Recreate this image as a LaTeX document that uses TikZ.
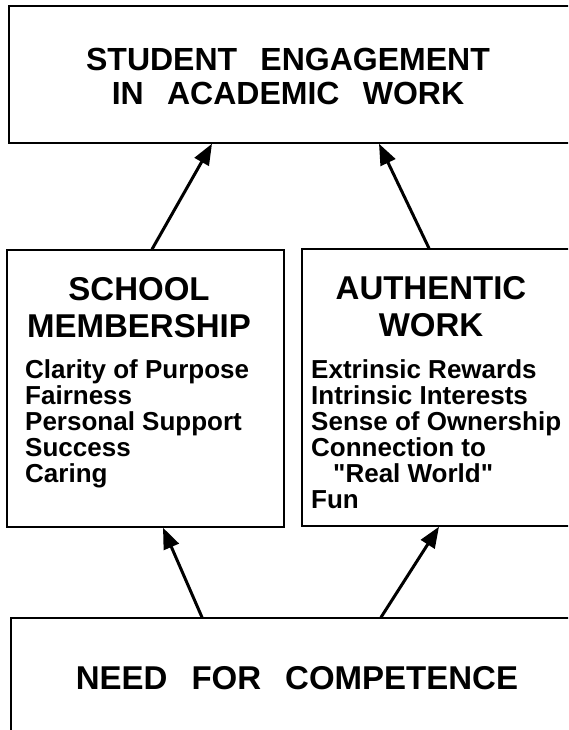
\documentclass[tikz,border=0pt]{standalone}
\usepackage{fontspec}
\newfontfamily\diagramfont{Liberation Sans}
\usetikzlibrary{arrows.meta}
\newcommand{\wordgap}{\hspace{0.45em}}

\begin{document}
\begin{tikzpicture}[x=1pt, y=-1pt,
    panel/.style={draw, line width=1.4pt, inner sep=0pt},
    title/.style={font=\diagramfont\fontsize{33}{37}\selectfont\bfseries, align=center, inner sep=0pt},
    banner/.style={font=\diagramfont\fontsize{32}{34}\selectfont\bfseries, align=center, inner sep=0pt},
    entry/.style={font=\diagramfont\fontsize{26}{26}\selectfont\bfseries, anchor=base west, inner sep=0pt},
    feed/.style={line width=3pt, -{Triangle[length=21pt, width=16pt]}}]
    \useasboundingbox (0,0) rectangle (568,730);
    \clip (0,0) rectangle (568,730);
    % boxes, the wide ones run off the right edge
    \node[panel, minimum width=571pt, minimum height=137pt] (engage) at (294.5,74.5) {};
    \node[panel, minimum width=277pt, minimum height=277pt] (school) at (145.5,388.5) {};
    \node[panel, minimum width=278pt, minimum height=277pt] (authentic) at (441,387.5) {};
    \node[panel, minimum width=569pt, minimum height=142pt] (need) at (295.5,689) {};
    % headings
    \node[banner] (engage-title) at (288,76) {STUDENT\wordgap{} ENGAGEMENT\\IN\wordgap{} ACADEMIC\wordgap{} WORK};
    \node[title] (school-title) at (139,307.5) {SCHOOL\\MEMBERSHIP};
    \node[title] (authentic-title) at (431,306.5) {AUTHENTIC\\WORK};
    \node[banner, font=\diagramfont\fontsize{33}{36}\selectfont\bfseries, anchor=base] (need-title) at (297,689) {NEED\wordgap{} FOR\wordgap{} COMPETENCE};
    % lists
    \foreach \entrytext [count=\i] in {Clarity of Purpose, Fairness, Personal Support, Success, Caring}
        \node[entry] (school-\i) at (25,{352+26*\i}) {\entrytext};
    \foreach \entrytext [count=\i] in {Extrinsic Rewards, Intrinsic Interests, Sense of Ownership, Connection to, {\hspace*{22pt}"Real World"}, Fun}
        \node[entry] (authentic-\i) at (311,{352+26*\i}) {\entrytext};
    % arrows
    \draw[feed] ([xshift=6.5pt]school.north) -- ([xshift=-82.5pt]engage.south);
    \draw[feed] ([xshift=-12pt]authentic.north) -- ([xshift=84.5pt]engage.south);
    \draw[feed] ([xshift=-93.5pt]need.north) -- ([xshift=17.5pt]school.south);
    \draw[feed] ([xshift=85.5pt]need.north) -- ([xshift=-2pt]authentic.south);
\end{tikzpicture}
\end{document}
